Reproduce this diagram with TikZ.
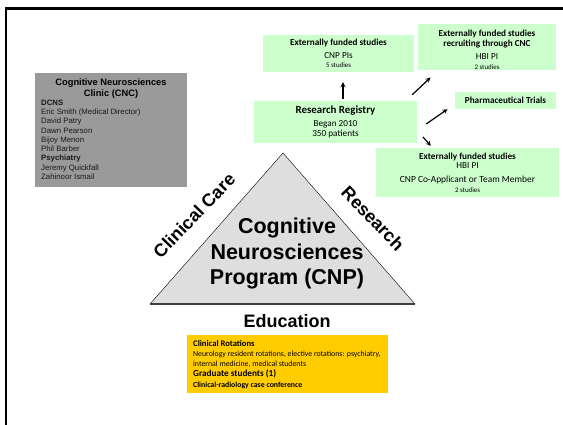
\documentclass[tikz,border=0pt]{standalone}
\usepackage{fontspec}
\setmainfont{Liberation Sans}
\newfontfamily\calibri{Carlito}
\usepackage{tikz}
\usetikzlibrary{positioning}

\definecolor{cnpgreen}{HTML}{CCFFCC}
\definecolor{cnpyellow}{HTML}{FFCC00}
\definecolor{cncgray}{HTML}{9A9A9A}
\definecolor{trigray}{HTML}{DEDEDE}
\newcommand{\fs}[2]{\fontsize{#1}{#2}\selectfont}

\begin{document}
\begin{tikzpicture}[x=1pt,y=-1pt,
    box/.style={inner sep=0pt},
    greenbox/.style={box, fill=cnpgreen, align=center, font=\calibri\fs{9.2}{10}},
    arr/.style={-stealth, line width=1.2pt},
    side/.style={font=\bfseries\fs{18}{20}}]
    \useasboundingbox (0,0) rectangle (563,425);

    % slide frame
    \draw[line width=3pt] (5,8.5) -- (563,8.5);
    \draw[line width=2pt] (6,8.5) -- (6,425);

    % clinic
    \node[box, fill=cncgray, minimum width=152pt, minimum height=114pt] (cnc) at (111,130) {};
    \node[box, anchor=north, align=center, font=\bfseries\fs{9.3}{10.7}] (cnctitle) at (111,79)
        {Cognitive Neurosciences\\Clinic (CNC)};
    \node[box, anchor=north west, align=left, font=\fs{7.8}{9.3}, text=black!90] (cncstaff) at (41,99.5)
        {\textbf{DCNS}\\Eric Smith (Medical Director)\\David Patry\\Dawn Pearson\\Bijoy Menon\\Phil Barber\\
         \textbf{Psychiatry}\\Jeremy Quickfall\\Zahinoor Ismail};

    % research
    \node[greenbox, minimum width=151pt, minimum height=37pt] (cnppis) at (338.5,53.5)
        {\textbf{Externally funded studies}\\[2.7pt]CNP PIs\\[-1pt]{\fs{6.9}{10}5 studies}};
    \node[greenbox, minimum width=138pt, minimum height=46pt] (hbirecruit) at (487,47) {};
    \node[greenbox, fill=none] (hbirecruit-txt) at (487,49.5)
        {\textbf{Externally funded studies}\\[0.3pt]\textbf{recruiting through CNC}\\[2.4pt]HBI PI\\{\fs{6.9}{10}2 studies}};
    \node[greenbox, minimum width=101pt, minimum height=17pt] (pharm) at (505.5,100.5)
        {\textbf{Pharmaceutical Trials}};
    \node[greenbox, minimum width=163pt, minimum height=42pt] (registry) at (335.5,122)
        {\textbf{\fs{10.9}{10}Research Registry}\\[2.3pt]Began 2010\\350 patients};
    \node[greenbox, minimum width=183pt, minimum height=49pt] (hbicoapp) at (467.5,172.5)
        {\textbf{Externally funded studies}\\[-0.6pt]HBI PI\\[3.3pt]{\fs{9.4}{10}CNP Co-Applicant or Team Member}\\{\fs{6.9}{10}2 studies}};

    \draw[arr] ([xshift=7.5pt,yshift=2pt]registry.north) -- ([xshift=4.5pt,yshift=-10pt]cnppis.south);
    \draw[arr] ([xshift=-5pt,yshift=6pt]registry.north east) -- ([xshift=12.7pt,yshift=-7.3pt]hbirecruit.south west);
    \draw[arr] ([xshift=9pt,yshift=-2pt]registry.east) -- ([xshift=-7.3pt]pharm.south west);
    \draw[arr] ([xshift=5.7pt,yshift=6.3pt]registry.south east) -- ([xshift=55pt,yshift=2pt]hbicoapp.north west);

    % program triangle
    \draw[fill=trigray] (283,153) -- (415,304) -- (150,304) -- cycle;
    \draw[line width=1.2pt, black!75] (150,304) -- (415,304);
    \node[box, align=center, font=\bfseries\fs{21.5}{25.5}] (cnp) at (287,253.5)
        {Cognitive\\Neurosciences\\Program (CNP)};
    \node[box, side, rotate=46] (clinical) at (194,215.5) {Clinical Care};
    \node[box, side, rotate=-46] (research) at (373,218.5) {Research};
    \node[box, side] (education) at (287,321.5) {Education};

    % education
    \node[box, fill=cnpyellow, minimum width=201pt, minimum height=58pt] (edu) at (287,364) {};
    \node[box, anchor=north west, align=left, font=\calibri\fs{7.8}{9.3}] (edu-txt) at (193,340)
        {{\fs{8.6}{10}\bfseries Clinical Rotations}\\[1.4pt]
         Neurology resident rotations, elective rotations: psychiatry,\\
         internal medicine, medical students\\[1.4pt]
         {\fs{9.2}{10}\bfseries Graduate students (1)}\\[1.3pt]
         \textbf{Clinical-radiology case conference}};
\end{tikzpicture}
\end{document}
